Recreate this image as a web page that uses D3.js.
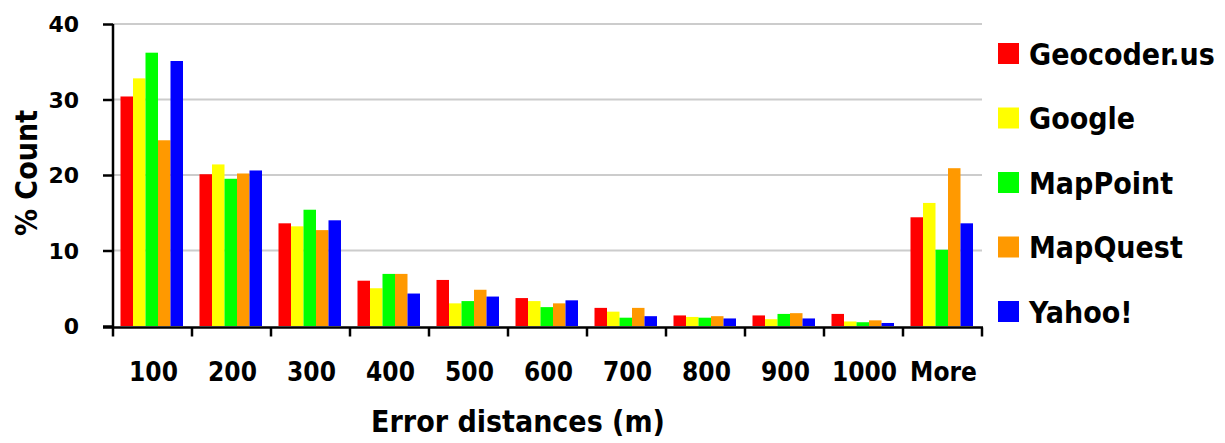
<!DOCTYPE html>
<html><head><meta charset="utf-8">
<script src="https://cdn.jsdelivr.net/npm/d3@7/dist/d3.min.js"></script>
<style>
html,body{margin:0;padding:0;background:#fff;}
svg{display:block;}
</style></head>
<body>
<svg id="chart" width="1225" height="443"></svg>
<script>
const categories = ["100","200","300","400","500","600","700","800","900","1000","More"];
const seriesNames = ["Geocoder.us","Google","MapPoint","MapQuest","Yahoo!"];
const seriesColors = ["#ff0000","#ffff00","#00ff00","#ff9900","#0000ff"];
const geocoderUs = [30.4, 20.1, 13.6, 6.0, 6.1, 3.7, 2.4, 1.4, 1.4, 1.6, 14.4];
const google     = [32.8, 21.4, 13.2, 5.0, 3.0, 3.3, 1.9, 1.2, 0.9, 0.6, 16.3];
const mapPoint   = [36.2, 19.5, 15.4, 6.9, 3.3, 2.5, 1.1, 1.1, 1.6, 0.5, 10.1];
const mapQuest   = [24.6, 20.2, 12.7, 6.9, 4.8, 3.0, 2.4, 1.3, 1.7, 0.75, 20.9];
const yahoo      = [35.1, 20.6, 14.0, 4.3, 3.9, 3.4, 1.3, 1.0, 1.0, 0.4, 13.6];
const yTicks = [0, 10, 20, 30, 40];

const seriesValues = [geocoderUs, google, mapPoint, mapQuest, yahoo];

(function () {
const svg = d3.select("#chart");
const mLeft = 113, mRight = 982, mTop = 24, mBottom = 326;

const x = d3.scaleBand().domain(categories).range([mLeft, mRight]).padding(0);
const x1 = d3.scaleBand().domain(seriesNames).range([7.5, 70]).padding(0);
const y = d3.scaleLinear().domain([0, 40]).range([mBottom, mTop]);

// gridlines
svg.append("g").selectAll("line").data(yTicks.filter(d => d > 0)).join("line")
  .attr("x1", mLeft).attr("x2", mRight)
  .attr("y1", d => y(d)).attr("y2", d => y(d))
  .attr("stroke", "#cccccc").attr("stroke-width", 2);

// bars
const groups = svg.append("g").selectAll("g").data(categories).join("g")
  .attr("transform", d => `translate(${x(d)},0)`);
groups.selectAll("rect")
  .data((c, i) => seriesNames.map((s, j) => ({s, j, v: seriesValues[j][i]})))
  .join("rect")
  .attr("x", d => x1(d.s))
  .attr("width", x1.bandwidth())
  .attr("y", d => y(d.v))
  .attr("height", d => y(0) - y(d.v))
  .attr("fill", d => seriesColors[d.j]);

// y axis
const yAxis = d3.axisLeft(y).tickValues(yTicks).tickSize(10).tickPadding(24)
  .tickFormat(d3.format("d"));
const gy = svg.append("g").attr("transform", `translate(${mLeft},0)`).call(yAxis);
gy.select(".domain").attr("d", `M0,${mTop}V${mBottom + 1}`).attr("stroke", "#000").attr("stroke-width", 2.5);
gy.selectAll(".tick line").attr("stroke", "#000").attr("stroke-width", 2.5);
gy.selectAll(".tick text")
  .attr("font-family", "DejaVu Sans").attr("font-weight", "bold")
  .attr("font-size", 22).attr("fill", "#000").attr("dy", "0.36em");

// x axis (ticks at category boundaries)
const gx = svg.append("g").attr("transform", `translate(0,${mBottom + 1.5})`);
gx.append("line").attr("x1", mLeft - 10).attr("x2", mRight + 1)
  .attr("y1", 0).attr("y2", 0).attr("stroke", "#000").attr("stroke-width", 2.5);
const boundaries = categories.map(c => x(c)).concat([x(categories[categories.length - 1]) + x.bandwidth()]);
gx.selectAll("line.tk").data(boundaries).join("line").attr("class", "tk")
  .attr("x1", d => d).attr("x2", d => d).attr("y1", 0).attr("y2", 9)
  .attr("stroke", "#000").attr("stroke-width", 2.5);
gx.selectAll("text").data(categories).join("text")
  .attr("x", d => x(d) + x.bandwidth() / 2 + 1)
  .attr("y", 381 - mBottom - 1.5)
  .attr("text-anchor", "middle")
  .attr("font-family", "DejaVu Sans Condensed, DejaVu Sans").attr("font-stretch", "condensed")
  .attr("font-weight", "bold").attr("font-size", 26).attr("fill", "#000")
  .text(d => d);

// axis titles
svg.append("text")
  .attr("transform", "translate(37,173) rotate(-90)")
  .attr("text-anchor", "middle")
  .attr("font-family", "DejaVu Sans Condensed, DejaVu Sans").attr("font-stretch", "condensed")
  .attr("font-weight", "bold").attr("font-size", 30).attr("fill", "#000")
  .text("% Count");
svg.append("text")
  .attr("x", 518).attr("y", 432)
  .attr("text-anchor", "middle")
  .attr("font-family", "DejaVu Sans Condensed, DejaVu Sans").attr("font-stretch", "condensed")
  .attr("font-weight", "bold").attr("font-size", 30).attr("fill", "#000")
  .text("Error distances (m)");

// legend
const legend = svg.append("g").selectAll("g").data(seriesNames).join("g")
  .attr("transform", (d, i) => `translate(998,${43 + i * 64.5})`);
legend.append("rect").attr("width", 21).attr("height", 21)
  .attr("fill", (d, i) => seriesColors[i]);
legend.append("text").attr("x", 31).attr("y", 21.5)
  .attr("font-family", "DejaVu Sans Condensed, DejaVu Sans").attr("font-stretch", "condensed")
  .attr("font-weight", "bold").attr("font-size", 30).attr("fill", "#000")
  .text(d => d);
})();
</script>
</body></html>
